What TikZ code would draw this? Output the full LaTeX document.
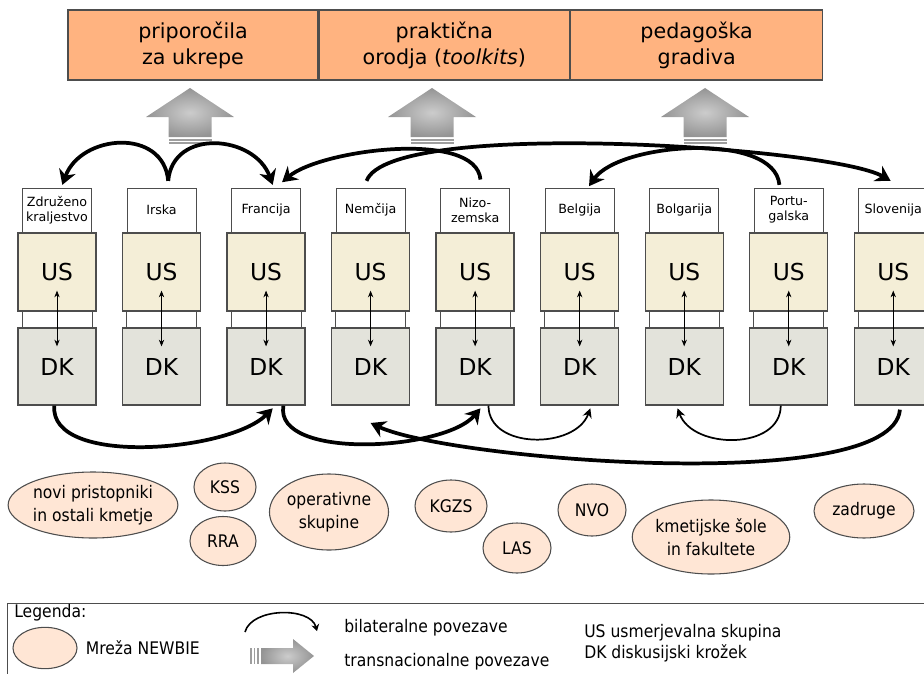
\documentclass[tikz,border=0pt]{standalone}
\usepackage{fontspec}
\setmainfont{DejaVu Sans}
\newfontfamily\condfont[FakeStretch=0.9]{DejaVu Sans}
\usetikzlibrary{positioning,shapes.geometric,arrows.meta}

\definecolor{goalfill}{HTML}{FFB380}
\definecolor{usfill}{HTML}{F4EED7}
\definecolor{dkfill}{HTML}{E3E3DB}
\definecolor{netfill}{HTML}{FFE6D5}
\definecolor{edgegray}{HTML}{4D4D4D}

\tikzset{
  goal/.style={draw=edgegray, line width=1pt, fill=goalfill, minimum width=187.5pt,
    minimum height=52.5pt, inner sep=0pt, align=center,
    font=\fontsize{15.5}{19.5}\selectfont},
  us/.style={draw=edgegray, line width=1pt, fill=usfill, minimum width=58.5pt,
    minimum height=58.5pt, inner sep=0pt, font=\fontsize{17.5}{20}\selectfont},
  dk/.style={us, fill=dkfill, minimum height=57.75pt},
  land/.style={draw=edgegray, line width=0.6pt, fill=white, minimum width=51.75pt,
    minimum height=33pt, inner sep=0pt, align=center,
    font=\fontsize{9.5}{11.25}\selectfont},
  frame/.style={draw=edgegray, line width=0.6pt},
  net/.style={ellipse, draw=edgegray, line width=0.8pt, fill=netfill, inner sep=0pt,
    align=center, font=\condfont\fontsize{13}{17}\selectfont},
  legtext/.style={anchor=west, inner sep=0pt, font=\condfont\fontsize{13}{17}\selectfont},
  duo/.style={{Stealth[length=5pt,width=4pt]}-{Stealth[length=5pt,width=4pt]},
    line width=0.5pt, shorten <=-15.75pt, shorten >=-14.25pt},
  bilat/.style={line width=2.8pt, -{Stealth[length=11pt,width=13pt]}},
  slim/.style={line width=1.3pt, -{Stealth[length=7pt,width=7pt]}},
  transfill/.style={inner color=black!20, outer color=black!42},
  trans/.pic={
    \shade[transfill] (-44,-29) -- (0,0) -- (44,-29) -- (21.5,-29) -- (21.5,-49)
      -- (-21.5,-49) -- (-21.5,-29) -- cycle;
    \fill[black!38] (-21.5,-50.5) rectangle (21.5,-52.5);
    \fill[black!38] (-21.5,-54) rectangle (21.5,-56);
  }
}

\begin{document}
\begin{tikzpicture}[x=0.75pt, y=0.75pt, node distance=18.9pt]
  \useasboundingbox (0,0) rectangle (924,-674);

  % Results of the network
  \node[goal] (rec) at (193,-45) {priporočila\\za ukrepe};
  \node[goal, right=0pt of rec] (tools) {praktična\\orodja (\textit{toolkits})};
  \node[goal, right=0pt of tools, minimum width=189pt] (peda) {pedagoška\\gradiva};

  \pic at (190,-88) {trans};
  \pic at (432,-88) {trans};
  \pic at (705,-88) {trans};

  % Steering groups
  \node[us]              (us1) at (57,-272) {US};
  \node[us, right=of us1] (us2) {US};
  \node[us, right=of us2] (us3) {US};
  \node[us, right=of us3] (us4) {US};
  \node[us, right=of us4] (us5) {US};
  \node[us, right=of us5] (us6) {US};
  \node[us, right=of us6] (us7) {US};
  \node[us, right=of us7] (us8) {US};
  \node[us, right=of us8] (us9) {US};

  % Discussion circles
  \node[dk, below=11.75pt of us1] (dk1) {DK};
  \node[dk, below=11.75pt of us2] (dk2) {DK};
  \node[dk, below=11.75pt of us3] (dk3) {DK};
  \node[dk, below=11.75pt of us4] (dk4) {DK};
  \node[dk, below=11.75pt of us5] (dk5) {DK};
  \node[dk, below=11.75pt of us6] (dk6) {DK};
  \node[dk, below=11.75pt of us7] (dk7) {DK};
  \node[dk, below=11.75pt of us8] (dk8) {DK};
  \node[dk, below=11.75pt of us9] (dk9) {DK};

  % Countries
  \node[land, above=0pt of us1] (lab1) {Združeno\\kraljestvo};
  \node[land, above=0pt of us2] (lab2) {Irska};
  \node[land, above=0pt of us3] (lab3) {Francija};
  \node[land, above=0pt of us4] (lab4) {Nemčija};
  \node[land, above=0pt of us5] (lab5) {Nizo-\\zemska};
  \node[land, above=0pt of us6] (lab6) {Belgija};
  \node[land, above=0pt of us7] (lab7) {Bolgarija};
  \node[land, above=0pt of us8] (lab8) {Portu-\\galska};
  \node[land, above=0pt of us9] (lab9) {Slovenija};

  \foreach \i in {1,...,9}
    \draw[frame] (lab\i.west |- us\i.south) -- (lab\i.west |- dk\i.north)
                 (lab\i.east |- us\i.south) -- (lab\i.east |- dk\i.north);

  \draw[duo]
    (us1) edge (dk1) (us2) edge (dk2) (us3) edge (dk3)
    (us4) edge (dk4) (us5) edge (dk5) (us6) edge (dk6)
    (us7) edge (dk7) (us8) edge (dk8) (us9) edge (dk9);

  % Links between the steering groups
  \draw[bilat] ([shift={(5pt,5pt)}]lab2.north) to[out=95,in=70,looseness=1.3] ([shift={(4pt,2pt)}]lab1.north);
  \draw[bilat] ([shift={(5pt,5pt)}]lab2.north) to[out=85,in=110,looseness=1.3] ([shift={(5pt,2pt)}]lab3.north);
  \draw[bilat] ([shift={(4pt,6pt)}]lab5.north) to[out=95,in=40,looseness=0.65] ([shift={(12pt,4pt)}]lab3.north);
  \draw[bilat] ([shift={(-3pt,5pt)}]lab4.north) to[out=70,in=150,looseness=0.33] ([shift={(-2pt,5pt)}]lab9.north);
  \draw[bilat] ([shift={(-7pt,2pt)}]lab8.north) to[out=95,in=55,looseness=0.72] ([shift={(7pt,1pt)}]lab6.north);

  % Links between the discussion circles
  \draw[bilat] ([xshift=-2pt]dk1.south) to[out=-95,in=-135,looseness=0.72] ([shift={(5pt,-2pt)}]dk3.south);
  \draw[bilat] ([xshift=13pt]dk3.south) to[out=-100,in=-130,looseness=0.72] ([shift={(4pt,-2pt)}]dk5.south);
  \draw[slim] ([xshift=10pt]dk5.south) to[out=-90,in=-110,looseness=1.1] ([shift={(8pt,-2pt)}]dk6.south);
  \draw[slim] ([xshift=-6pt]dk8.south) to[out=-90,in=-70,looseness=1.1] ([shift={(-5pt,-2pt)}]dk7.south);
  \draw[bilat] ([shift={(5pt,-3pt)}]dk9.south) to[out=-95,in=-25,looseness=0.42] ([shift={(0pt,-13pt)}]dk4.south);

  % NEWBIE network
  \node[net, minimum width=123pt, minimum height=49.5pt] (novi) at (93,-505) {novi pristopniki\\in ostali kmetje};
  \node[net, minimum width=46.5pt, minimum height=36pt] (kss) at (225,-487) {KSS};
  \node[net, minimum width=49.5pt, minimum height=36.75pt] (rra) at (223,-541) {RRA};
  \node[net, minimum width=84pt, minimum height=57pt] (opsk) at (329,-512) {operativne\\skupine};
  \node[net, minimum width=54pt, minimum height=39pt] (kgzs) at (451,-506) {KGZS};
  \node[net, minimum width=51pt, minimum height=37.5pt] (las) at (517,-548) {LAS};
  \node[net, minimum width=51pt, minimum height=39pt] (nvo) at (592,-510) {NVO};
  \node[net, minimum width=99pt, minimum height=55.5pt] (sole) at (711,-537) {kmetijske šole\\in fakultete};
  \node[net, minimum width=75pt, minimum height=40.5pt] (zadr) at (864,-511) {zadruge};

  % Legend
  \draw[frame] (7,-603) rectangle (940,-690);
  \node[legtext] (legtitle) at (14,-613) {Legenda:};
  \node[net, minimum width=48pt, minimum height=31pt] (legnet) at (45,-648) {};
  \node[legtext, right=6pt of legnet] (legnettext) {Mreža NEWBIE};
  \coordinate (arca) at (245,-632);
  \coordinate (arcb) at (317,-631);
  \draw[line width=1.2pt, -{Stealth[length=5pt,width=6pt]}] (arca) to[out=75,in=105,looseness=0.9] (arcb);
  \node[legtext] (legbil) at (344,-628) {bilateralne povezave};
  \shade[transfill] (261,-648) -- (293,-648) -- (293,-639) -- (314,-656) -- (293,-673)
    -- (293,-664) -- (261,-664) -- cycle;
  \fill[black!38] (250,-648) rectangle (251.8,-664);
  \fill[black!38] (253.5,-648) rectangle (255.3,-664);
  \fill[black!38] (257,-648) rectangle (258.8,-664);
  \node[legtext] (legtrans) at (344,-662) {transnacionalne povezave};
  \node[legtext] (legus) at (584,-633) {US usmerjevalna skupina};
  \node[legtext] (legdk) at (584,-653) {DK diskusijski krožek};
\end{tikzpicture}
\end{document}
